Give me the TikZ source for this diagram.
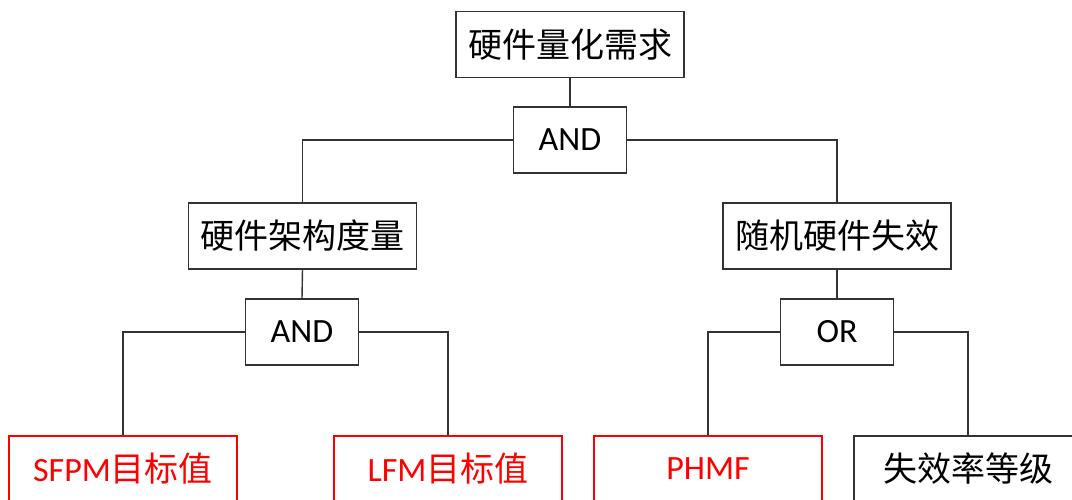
\documentclass[tikz,border=0pt]{standalone}
\usepackage{fontspec}
\setmainfont{Carlito}
\newfontfamily\cjk{Noto Sans CJK SC}
\definecolor{lineg}{HTML}{333333}
\definecolor{redb}{HTML}{FF0000}
\begin{document}
\begin{tikzpicture}[x=1pt,y=-1pt,
  box/.style={draw=lineg,line width=1.4pt,fill=white,minimum height=66pt,inner sep=0pt,font=\fontsize{34}{38}\selectfont},
  wide/.style={box,minimum width=228pt},
  gate/.style={box,minimum width=113pt},
  redbox/.style={wide,draw=redb,line width=2.4pt,text=redb},
  conn/.style={draw=lineg,line width=1.4pt}]
\useasboundingbox (0,0) rectangle (1072,499);
\clip (0,0) rectangle (1072,499);
\node[wide] (top) at (570,44.5) {\cjk 硬件量化需求};
\node[gate] (and1) at (570,140) {AND};
\node[wide] (lbox) at (302.5,236) {\cjk 硬件架构度量};
\node[wide] (rbox) at (837,236) {\cjk 随机硬件失效};
\node[gate] (and2) at (302,332) {AND};
\node[gate] (or) at (837,332) {OR};
\node[redbox] (sfpm) at (123,469) {SFPM{\cjk 目标值}};
\node[redbox] (lfm) at (448,469) {LFM{\cjk 目标值}};
\node[redbox] (phmf) at (708,469) {PHMF};
\node[wide] (rate) at (968,469) {\cjk 失效率等级};
\draw[conn] (top.south) -- (and1.north);
\draw[conn] (and1.west) -| (lbox.north);
\draw[conn] (and1.east) -| (rbox.north);
\draw[conn] (lbox.south) -- (and2.north);
\draw[conn] (rbox.south) -- (or.north);
\draw[conn] (and2.west) -| (sfpm.north);
\draw[conn] (and2.east) -| (lfm.north);
\draw[conn] (or.west) -| (phmf.north);
\draw[conn] (or.east) -| (rate.north);
\end{tikzpicture}
\end{document}
